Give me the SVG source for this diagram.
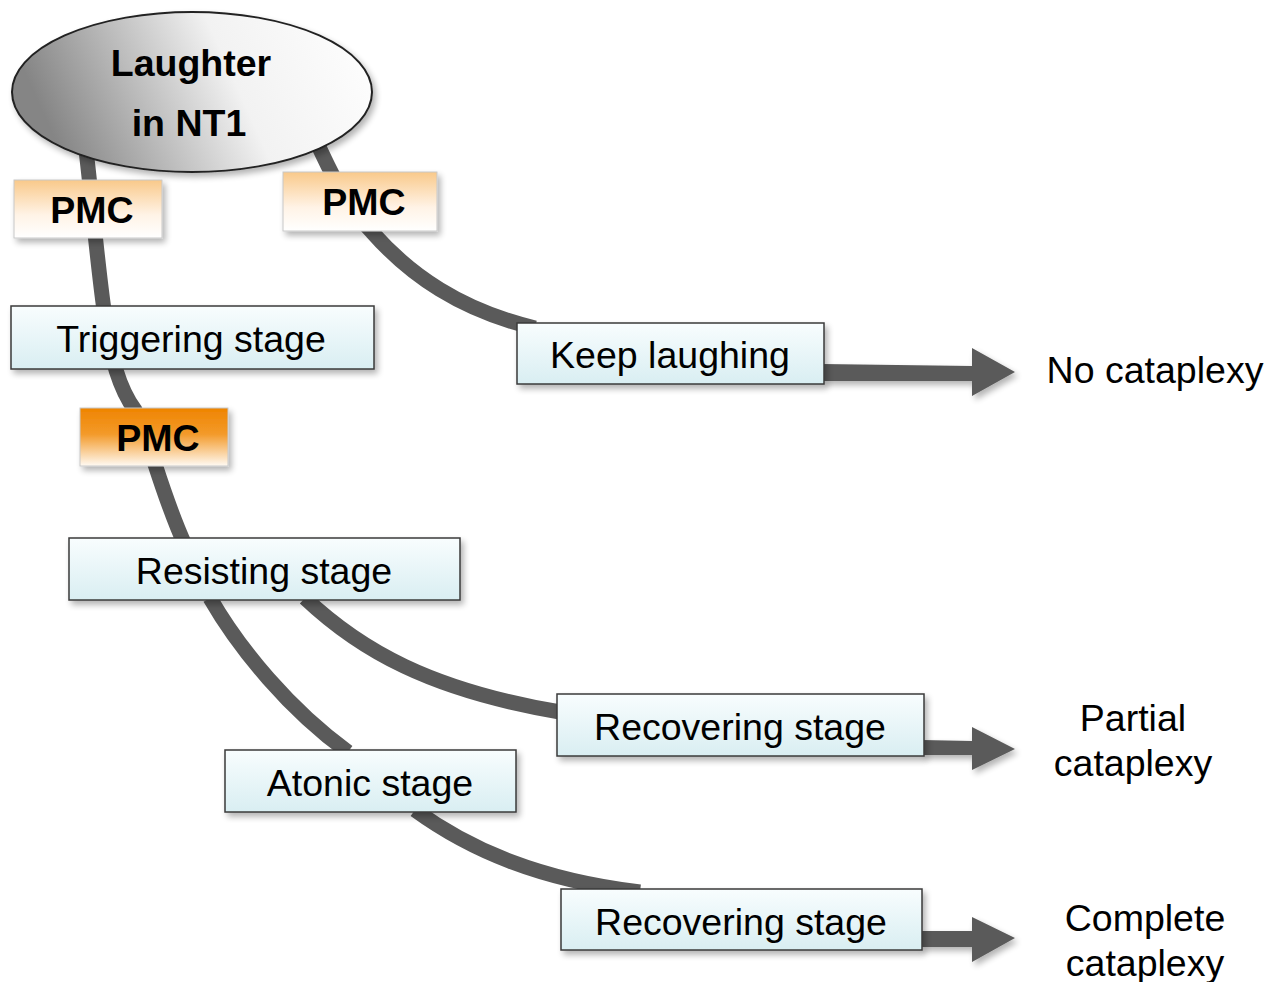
<svg xmlns="http://www.w3.org/2000/svg" width="1276" height="982" viewBox="0 0 1276 982">
<defs>
<linearGradient id="gEll" x1="0" y1="0.2" x2="1" y2="0">
<stop offset="0" stop-color="#858585"/>
<stop offset="0.55" stop-color="#f2f2f2"/>
<stop offset="1" stop-color="#ffffff"/>
</linearGradient>
<linearGradient id="gStage" x1="0" y1="0" x2="0" y2="1">
<stop offset="0" stop-color="#f8fdfe"/>
<stop offset="1" stop-color="#d9eef2"/>
</linearGradient>
<linearGradient id="gPmcL" x1="0" y1="0" x2="0" y2="1">
<stop offset="0" stop-color="#f9c98a"/>
<stop offset="0.6" stop-color="#fff3e6"/>
<stop offset="1" stop-color="#ffffff"/>
</linearGradient>
<linearGradient id="gPmcD" x1="0" y1="0" x2="0" y2="1">
<stop offset="0" stop-color="#ef8400"/>
<stop offset="0.45" stop-color="#f39a2a"/>
<stop offset="1" stop-color="#fffaf3"/>
</linearGradient>
<filter id="sh" x="-10%" y="-20%" width="125%" height="150%">
<feGaussianBlur in="SourceAlpha" stdDeviation="3"/>
<feOffset dx="3" dy="4" result="b"/>
<feComponentTransfer><feFuncA type="linear" slope="0.3"/></feComponentTransfer>
<feMerge><feMergeNode/><feMergeNode in="SourceGraphic"/></feMerge>
</filter>
</defs>
<style>
.con{fill:none;stroke:#5a5a5a;stroke-width:15;stroke-linecap:butt}
.arr{fill:#5a5a5a}
.stage{fill:url(#gStage);stroke:#3a3a3a;stroke-width:1.5}
.pmcl{fill:url(#gPmcL);stroke:#c8c8c8;stroke-width:1}
.pmcd{fill:url(#gPmcD);stroke:#c8c8c8;stroke-width:1}
.t{font-family:"Liberation Sans",Arial,sans-serif;font-size:37.5px;fill:#000;text-anchor:middle}
.b{font-weight:bold}
</style>
<rect width="1276" height="982" fill="#ffffff"/>
<g id="connectors">
<path class="con" d="M 86 150 C 92 200, 97 260, 104 310 C 110 360, 120 390, 135 410 C 150 440, 160 490, 185 545"/>
<path class="con" d="M 318 145 C 330 170, 345 205, 372 232 C 410 275, 460 310, 535 328"/>
<path class="con" d="M 210 598 C 240 650, 290 710, 348 752"/>
<path class="con" d="M 305 598 C 360 650, 430 690, 560 712"/>
<path class="con" d="M 415 810 C 470 850, 540 880, 640 892"/>
<g filter="url(#sh)">
<polygon class="arr" points="822,364 972,366 972,348 1015,372 972,396 972,381 822,381"/>
<polygon class="arr" points="922,740 972,741 972,727 1015,749 972,770 972,755 922,755"/>
<polygon class="arr" points="920,931 972,931 972,917 1015,938 972,962 972,947 920,947"/>
</g>
</g>
<g id="laughter">
<ellipse cx="192" cy="92" rx="180" ry="80" fill="url(#gEll)" stroke="#222" stroke-width="2" filter="url(#sh)"/>
<text class="t b" x="191" y="76">Laughter</text>
<text class="t b" x="189" y="136">in NT1</text>
</g>
<g id="pmc1">
<rect class="pmcl" x="14" y="180" width="148" height="58" filter="url(#sh)"/>
<text class="t b" x="92" y="223">PMC</text>
</g>
<g id="pmc2">
<rect class="pmcl" x="283" y="172" width="154" height="59" filter="url(#sh)"/>
<text class="t b" x="364" y="215">PMC</text>
</g>
<g id="triggering">
<rect class="stage" x="11" y="306" width="363" height="63" filter="url(#sh)"/>
<text class="t" x="191" y="352">Triggering stage</text>
</g>
<g id="keep">
<rect class="stage" x="517" y="323" width="307" height="61" filter="url(#sh)"/>
<text class="t" x="670" y="368">Keep laughing</text>
</g>
<g id="pmc3">
<rect class="pmcd" x="80" y="408" width="148" height="58" filter="url(#sh)"/>
<text class="t b" x="158" y="451">PMC</text>
</g>
<g id="resisting">
<rect class="stage" x="69" y="538" width="391" height="62" filter="url(#sh)"/>
<text class="t" x="264" y="584">Resisting stage</text>
</g>
<g id="recovering1">
<rect class="stage" x="557" y="694" width="367" height="62" filter="url(#sh)"/>
<text class="t" x="740" y="740">Recovering stage</text>
</g>
<g id="atonic">
<rect class="stage" x="225" y="750" width="291" height="62" filter="url(#sh)"/>
<text class="t" x="370" y="796">Atonic stage</text>
</g>
<g id="recovering2">
<rect class="stage" x="561" y="889" width="361" height="61" filter="url(#sh)"/>
<text class="t" x="741" y="935">Recovering stage</text>
</g>
<g id="outcomes">
<text class="t" x="1155" y="383">No cataplexy</text>
<text class="t" x="1133" y="731">Partial</text>
<text class="t" x="1133" y="776">cataplexy</text>
<text class="t" x="1145" y="931">Complete</text>
<text class="t" x="1145" y="976">cataplexy</text>
</g>
</svg>
